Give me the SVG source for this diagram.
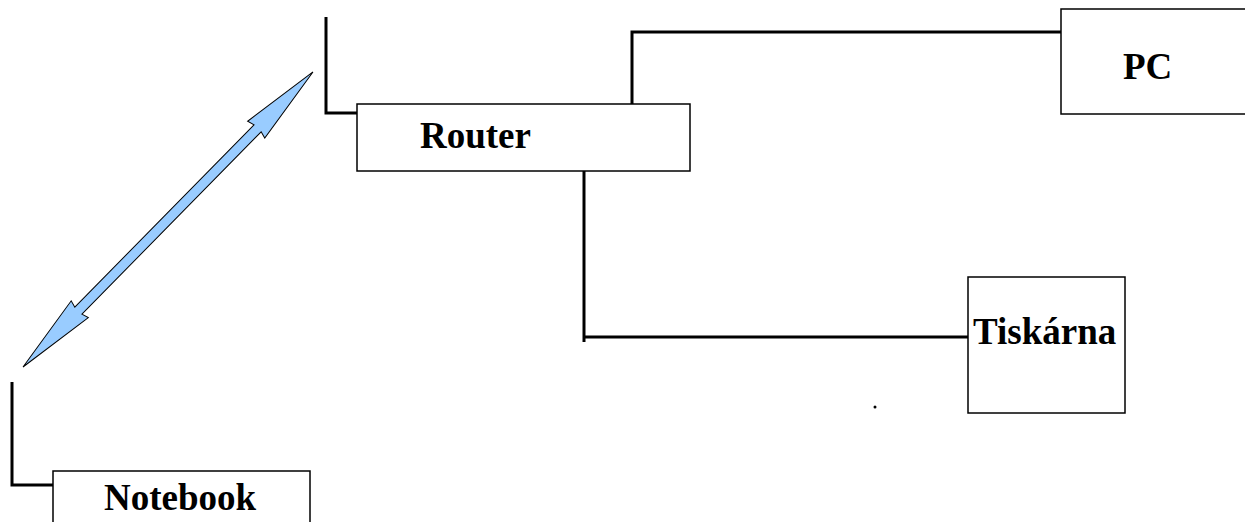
<svg xmlns="http://www.w3.org/2000/svg" width="1245" height="522" viewBox="0 0 1245 522">
<style>
.box{fill:#fff;stroke:#000;stroke-width:1.5}
.lbl{font-family:"Liberation Serif","Times New Roman",serif;font-weight:bold;font-size:37px;fill:#000}
.wire{fill:none;stroke:#000;stroke-width:3}
.arr{fill:#99ccff;stroke:#000;stroke-width:1}
</style>
<rect width="1245" height="522" fill="#fff"/>
<g id="connectors">
<polyline class="wire" points="326,17 326,113 357,113"/>
<polyline class="wire" points="632,104 632,32 1061,32"/>
<polyline class="wire" points="584,171 584,342"/>
<polyline class="wire" points="584,337 968,337"/>
<polyline class="wire" points="12,382 12,485 53,485"/>
<g transform="translate(23,367) rotate(-45.5)">
<polygon class="arr" points="0,0 81,-12 79,-5 334.7,-5 332.7,-12 413.7,0 332.7,12 334.7,5 79,5 81,12"/>
</g>
</g>
<g id="router">
<rect class="box" x="357" y="104" width="333" height="67"/>
<text class="lbl" x="420" y="148">Router</text>
</g>
<g id="pc">
<rect class="box" x="1061" y="9" width="200" height="105"/>
<text class="lbl" x="1123" y="79">PC</text>
</g>
<g id="tiskarna">
<rect class="box" x="968" y="277" width="157" height="136"/>
<text class="lbl" x="973" y="344">Tiskárna</text>
</g>
<g id="notebook">
<rect class="box" x="53" y="471" width="257" height="60"/>
<text class="lbl" x="104" y="510">Notebook</text>
</g>
<circle cx="875" cy="407" r="1.5" fill="#000"/>
</svg>
